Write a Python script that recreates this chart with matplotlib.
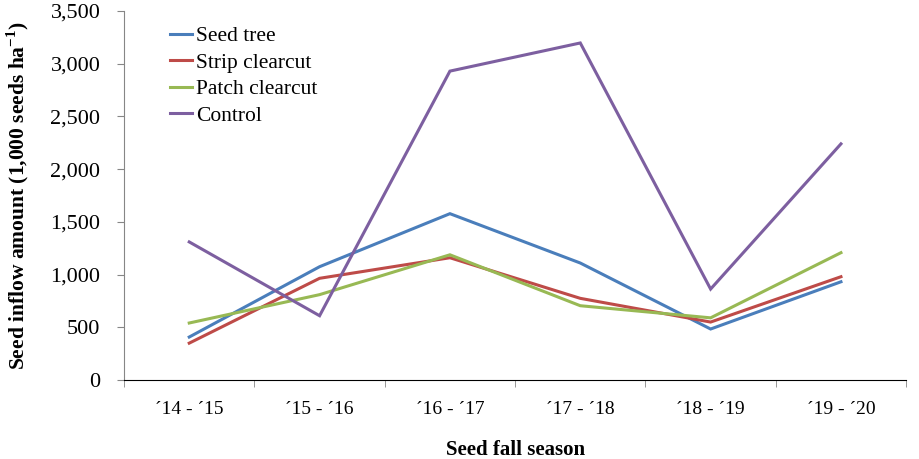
import matplotlib
matplotlib.use("Agg")
import matplotlib.pyplot as plt
from matplotlib.ticker import FuncFormatter, FixedLocator

seasons = ["´14 - ´15", "´15 - ´16", "´16 - ´17", "´17 - ´18", "´18 - ´19", "´19 - ´20"]
seed_tree = [408, 1075, 1578, 1110, 484, 932]
strip_clearcut = [350, 965, 1160, 775, 550, 980]
patch_clearcut = [541, 810, 1188, 705, 590, 1208]
control = [1310, 610, 2930, 3197, 863, 2240]

series = [
    ("Seed tree", seed_tree, "#4A7EBB"),
    ("Strip clearcut", strip_clearcut, "#BE4B48"),
    ("Patch clearcut", patch_clearcut, "#98B954"),
    ("Control", control, "#7D5FA0"),
]

plt.rcParams['font.family'] = ['Liberation Serif', 'DejaVu Serif']
plt.rcParams['mathtext.fontset'] = 'custom'
plt.rcParams['mathtext.rm'] = 'Liberation Serif'
plt.rcParams['mathtext.bf'] = 'Liberation Serif:bold'

fig = plt.figure(figsize=(9.19, 4.59), dpi=100)
ax = fig.add_axes([0.135, 0.172, 0.851, 0.804])

x = list(range(len(seasons)))
for name, vals, col in series:
    ax.plot(x, vals, color=col, lw=2.2, label=name, solid_joinstyle='miter')

ax.set_xlim(-0.5, len(seasons) - 0.5)
ax.set_ylim(0, 3500)
ax.set_yticks(range(0, 3501, 500))
ax.yaxis.set_major_formatter(FuncFormatter(lambda v, p: f"{int(v):,}"))

ax.set_xticks(x)
ax.set_xticklabels(seasons)
ax.xaxis.set_minor_locator(FixedLocator([i - 0.5 for i in range(len(seasons) + 1)]))
ax.tick_params(axis='x', which='major', length=0, pad=15, labelsize=14)
ax.tick_params(axis='x', which='minor', length=5, direction='out', color='#868686')
ax.tick_params(axis='y', length=5, direction='out', labelsize=16, pad=12, color='#868686')

for s in ['top', 'right']:
    ax.spines[s].set_visible(False)
ax.spines['left'].set_color('#868686')
ax.spines['bottom'].set_color('black')

ax.set_ylabel("Seed inflow amount (1,000 seeds ha$^{\\mathbf{-1}}$)", fontsize=15.5, fontweight='bold', labelpad=14)
ax.set_xlabel("Seed fall season", fontsize=15, fontweight='bold', labelpad=16)

leg = ax.legend(loc='upper left', bbox_to_anchor=(0.04, 1.0), frameon=False, fontsize=15.5,
                handlelength=1.0, handletextpad=0.2, labelspacing=0.3, borderaxespad=0.3)

fig.savefig("out.png", dpi=100)
